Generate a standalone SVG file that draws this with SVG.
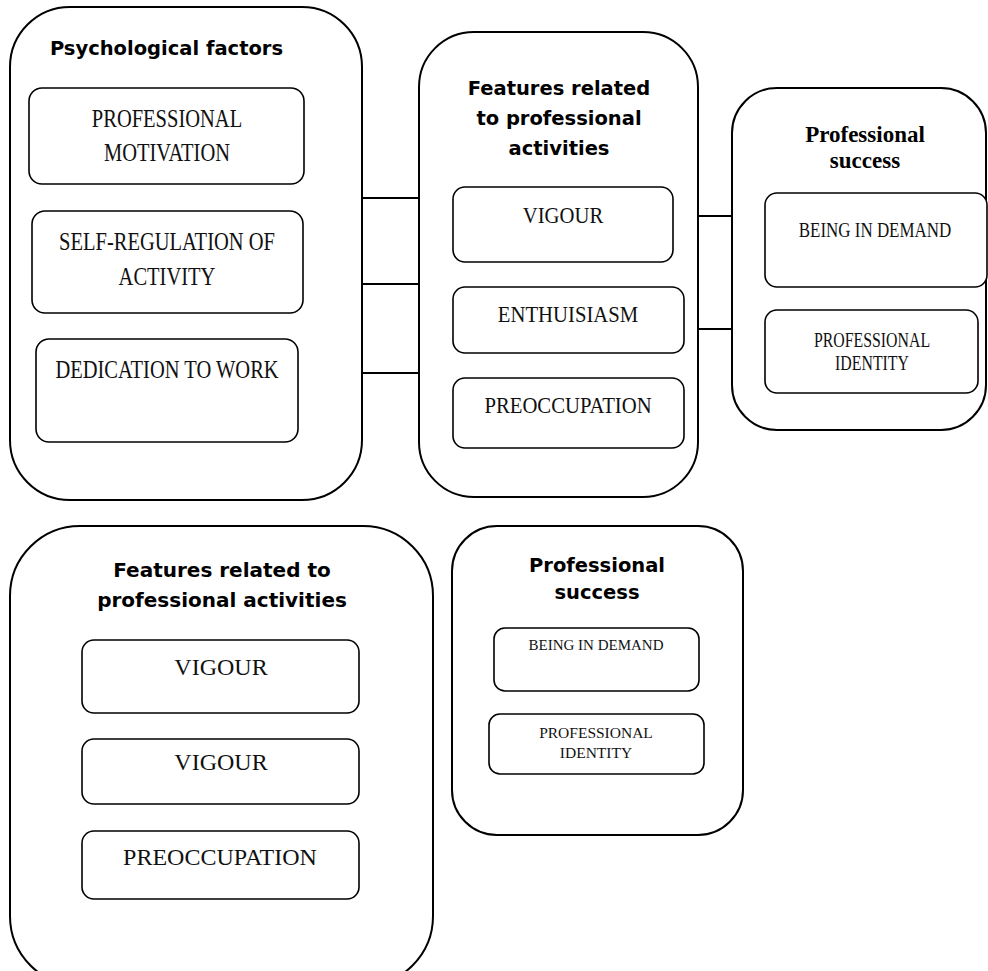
<svg xmlns="http://www.w3.org/2000/svg" width="988" height="971" viewBox="0 0 988 971">
<style>
.cont{fill:#fff;stroke:#000;stroke-width:2}
.box{fill:#fff;stroke:#000;stroke-width:1.6}
.hd{font-family:"DejaVu Sans",Verdana,sans-serif;font-weight:bold;fill:#000;text-anchor:middle}
.sf{font-family:"Liberation Serif","Times New Roman",serif;fill:#111;text-anchor:middle}
.sfb{font-family:"Liberation Serif","Times New Roman",serif;font-weight:bold;fill:#000;text-anchor:middle}
.ln{stroke:#000;stroke-width:1.8;fill:none}
</style>
<rect width="988" height="971" fill="#fff"/>
<g id="connectors">
<line class="ln" x1="362" y1="198" x2="419" y2="198"/>
<line class="ln" x1="362" y1="284" x2="419" y2="284"/>
<line class="ln" x1="362" y1="373" x2="419" y2="373"/>
<line class="ln" x1="698" y1="216" x2="732" y2="216"/>
<line class="ln" x1="698" y1="329" x2="732" y2="329"/>
</g>
<g id="psychological-factors">
<rect class="cont" x="10" y="7" width="352" height="493" rx="60" ry="60"/>
<text class="hd" x="166.5" y="55" font-size="19.5">Psychological factors</text>
<rect class="box" x="29" y="88" width="275" height="96" rx="13"/>
<text class="sf" font-size="25" transform="translate(167,127) scale(0.82,1)">PROFESSIONAL</text>
<text class="sf" font-size="25" transform="translate(167,161) scale(0.82,1)">MOTIVATION</text>
<rect class="box" x="32" y="211" width="271" height="102" rx="13"/>
<text class="sf" font-size="25" transform="translate(167,250) scale(0.82,1)">SELF-REGULATION OF</text>
<text class="sf" font-size="25" transform="translate(167,285) scale(0.82,1)">ACTIVITY</text>
<rect class="box" x="36" y="339" width="262" height="103" rx="13"/>
<text class="sf" font-size="25" transform="translate(167,378) scale(0.82,1)">DEDICATION TO WORK</text>
</g>
<g id="features-top">
<rect class="cont" x="419" y="32" width="279" height="465" rx="55" ry="55"/>
<text class="hd" x="559" y="95" font-size="19.5">Features related</text>
<text class="hd" x="559" y="125" font-size="19.5">to professional</text>
<text class="hd" x="559" y="155" font-size="19.5">activities</text>
<rect class="box" x="453" y="187" width="220" height="75" rx="12"/>
<text class="sf" font-size="23" transform="translate(563,223) scale(0.9,1)">VIGOUR</text>
<rect class="box" x="453" y="287" width="231" height="66" rx="12"/>
<text class="sf" font-size="23" transform="translate(568,322) scale(0.9,1)">ENTHUISIASM</text>
<rect class="box" x="453" y="378" width="231" height="70" rx="12"/>
<text class="sf" font-size="23" transform="translate(568,413) scale(0.9,1)">PREOCCUPATION</text>
</g>
<g id="success-top">
<rect class="cont" x="732" y="88" width="254" height="342" rx="45" ry="45"/>
<text class="sfb" x="865" y="142" font-size="23">Professional</text>
<text class="sfb" x="865" y="168" font-size="23">success</text>
<rect class="box" x="765" y="193" width="222" height="94" rx="12"/>
<text class="sf" font-size="22" transform="translate(875,237) scale(0.77,1)">BEING IN DEMAND</text>
<rect class="box" x="765" y="310" width="213" height="83" rx="12"/>
<text class="sf" font-size="22" transform="translate(872,347) scale(0.72,1)">PROFESSIONAL</text>
<text class="sf" font-size="22" transform="translate(872,370) scale(0.72,1)">IDENTITY</text>
</g>
<g id="features-bottom">
<rect class="cont" x="10" y="526" width="423" height="460" rx="70" ry="70"/>
<text class="hd" x="222" y="577" font-size="20">Features related to</text>
<text class="hd" x="222" y="607" font-size="20">professional activities</text>
<rect class="box" x="82" y="640" width="277" height="73" rx="12"/>
<text class="sf" x="221" y="675" font-size="24">VIGOUR</text>
<rect class="box" x="82" y="739" width="277" height="65" rx="12"/>
<text class="sf" x="221" y="770" font-size="24">VIGOUR</text>
<rect class="box" x="82" y="831" width="277" height="68" rx="12"/>
<text class="sf" x="220" y="865" font-size="24">PREOCCUPATION</text>
</g>
<g id="success-bottom">
<rect class="cont" x="452" y="526" width="291" height="309" rx="45" ry="45"/>
<text class="hd" x="597" y="572" font-size="19.5">Professional</text>
<text class="hd" x="597" y="599" font-size="19.5">success</text>
<rect class="box" x="494" y="628" width="205" height="63" rx="11"/>
<text class="sf" x="596" y="650" font-size="15">BEING IN DEMAND</text>
<rect class="box" x="489" y="714" width="215" height="60" rx="11"/>
<text class="sf" x="596" y="738" font-size="15.5">PROFESSIONAL</text>
<text class="sf" x="596" y="758" font-size="15.5">IDENTITY</text>
</g>
</svg>
